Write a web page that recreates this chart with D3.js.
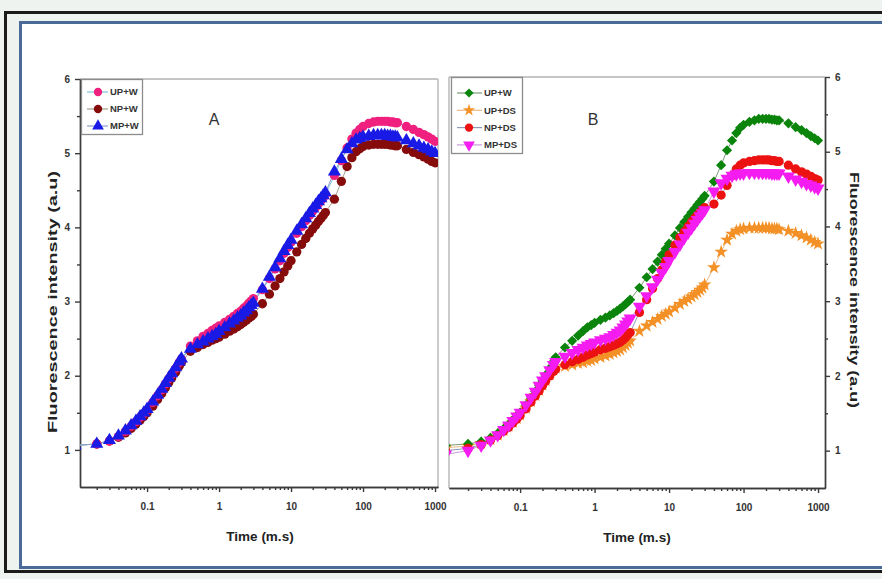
<!DOCTYPE html>
<html>
<head>
<meta charset="utf-8">
<script src="https://cdn.jsdelivr.net/npm/d3@7"></script>
<style>
body { margin: 0; background: #eef3f0; }
svg { display: block; font-family: "Liberation Sans", Arial, sans-serif; }
</style>
</head>
<body>
<svg width="882" height="579"></svg>
<script>
// sample times (ms), same for every curve
const times = [
  0.01, 0.02, 0.03, 0.04, 0.05, 0.06, 0.07, 0.08, 0.09, 0.1,
  0.12, 0.14, 0.16, 0.18, 0.2, 0.22, 0.25, 0.28, 0.3,
  0.4, 0.5, 0.6, 0.7, 0.8, 0.9, 1,
  1.2, 1.4, 1.6, 1.8, 2, 2.2, 2.4, 2.6, 2.8, 3,
  4, 5, 6, 7, 8, 9, 10,
  12, 14, 16, 18, 20, 22, 24, 26, 28, 30,
  40, 50, 60, 70, 80, 90, 100,
  120, 140, 160, 180, 200, 220, 240, 260, 280, 300,
  400, 500, 600, 700, 800, 900, 1000
]

// panel A
const upW_A = [
  1.06, 1.08, 1.12, 1.18, 1.25, 1.32, 1.38, 1.44, 1.49, 1.54, 1.64, 1.73, 1.81, 1.89, 1.96, 2.02, 2.10, 2.18, 2.22,
  2.40, 2.47, 2.53, 2.57, 2.61, 2.64, 2.67, 2.72, 2.76, 2.80, 2.84, 2.87, 2.91, 2.94, 2.98, 3.01, 3.04,
  3.16, 3.31, 3.44, 3.55, 3.65, 3.73, 3.80, 3.92, 4.01, 4.09, 4.16, 4.22, 4.27, 4.32, 4.36, 4.40, 4.44,
  4.70, 4.90, 5.07, 5.19, 5.27, 5.32, 5.36, 5.40, 5.42, 5.43, 5.43, 5.43, 5.43, 5.42, 5.42, 5.41, 5.41,
  5.36, 5.32, 5.28, 5.25, 5.22, 5.19, 5.16
]
const npW_A = [
  1.06, 1.08, 1.12, 1.17, 1.23, 1.29, 1.35, 1.40, 1.45, 1.50, 1.59, 1.68, 1.76, 1.84, 1.91, 1.97, 2.05, 2.13, 2.18,
  2.33, 2.38, 2.42, 2.45, 2.48, 2.50, 2.52, 2.56, 2.60, 2.63, 2.66, 2.69, 2.72, 2.75, 2.78, 2.80, 2.83,
  2.97, 3.10, 3.21, 3.31, 3.40, 3.48, 3.55, 3.67, 3.77, 3.85, 3.92, 3.98, 4.03, 4.08, 4.12, 4.16, 4.20,
  4.38, 4.62, 4.82, 4.94, 5.02, 5.06, 5.09, 5.11, 5.12, 5.12, 5.12, 5.12, 5.12, 5.11, 5.11, 5.10, 5.10,
  5.05, 5.01, 4.98, 4.95, 4.92, 4.89, 4.87
]
const mpW_A = [
  1.06, 1.08, 1.13, 1.19, 1.26, 1.33, 1.39, 1.45, 1.50, 1.55, 1.65, 1.74, 1.82, 1.90, 1.97, 2.03, 2.11, 2.19, 2.23,
  2.36, 2.42, 2.46, 2.50, 2.53, 2.56, 2.60, 2.65, 2.70, 2.74, 2.78, 2.81, 2.85, 2.88, 2.92, 2.95, 2.98,
  3.17, 3.33, 3.46, 3.58, 3.68, 3.76, 3.83, 3.95, 4.04, 4.12, 4.19, 4.25, 4.30, 4.35, 4.39, 4.43, 4.47,
  4.75, 4.92, 5.05, 5.13, 5.18, 5.20, 5.22, 5.23, 5.24, 5.24, 5.24, 5.24, 5.23, 5.23, 5.22, 5.22, 5.21,
  5.17, 5.13, 5.10, 5.07, 5.05, 5.02, 5.00
]

// panel B
const upW_B = [
  1.07, 1.09, 1.12, 1.17, 1.23, 1.29, 1.35, 1.41, 1.46, 1.51, 1.61, 1.70, 1.79, 1.87, 1.94, 2.01, 2.10, 2.19, 2.25,
  2.38, 2.47, 2.54, 2.60, 2.65, 2.68, 2.71, 2.75, 2.78, 2.81, 2.84, 2.87, 2.90, 2.93, 2.96, 2.99, 3.02,
  3.18, 3.32, 3.43, 3.53, 3.62, 3.70, 3.77, 3.88, 3.98, 4.06, 4.13, 4.19, 4.24, 4.29, 4.33, 4.37, 4.41,
  4.60, 4.82, 5.02, 5.15, 5.25, 5.32, 5.36, 5.40, 5.42, 5.44, 5.44, 5.44, 5.44, 5.43, 5.43, 5.42, 5.42,
  5.38, 5.33, 5.29, 5.25, 5.21, 5.18, 5.15
]
const upDS_B = [
  1.04, 1.06, 1.10, 1.15, 1.21, 1.27, 1.33, 1.38, 1.43, 1.48, 1.57, 1.66, 1.74, 1.81, 1.88, 1.94, 2.02, 2.08, 2.11,
  2.13, 2.15, 2.17, 2.18, 2.20, 2.21, 2.23, 2.25, 2.27, 2.29, 2.31, 2.33, 2.35, 2.38, 2.41, 2.44, 2.47,
  2.60, 2.67, 2.72, 2.76, 2.80, 2.83, 2.86, 2.91, 2.96, 3.00, 3.03, 3.06, 3.09, 3.12, 3.15, 3.18, 3.22,
  3.45, 3.66, 3.82, 3.90, 3.94, 3.96, 3.97, 3.98, 3.98, 3.98, 3.98, 3.98, 3.98, 3.97, 3.97, 3.97, 3.96,
  3.94, 3.91, 3.88, 3.85, 3.82, 3.79, 3.77
]
const npDS_B = [
  1.00, 1.03, 1.08, 1.14, 1.20, 1.26, 1.31, 1.37, 1.42, 1.47, 1.56, 1.65, 1.73, 1.80, 1.87, 1.93, 2.00, 2.06, 2.09,
  2.15, 2.19, 2.22, 2.25, 2.28, 2.30, 2.32, 2.35, 2.37, 2.39, 2.41, 2.43, 2.45, 2.48, 2.51, 2.55, 2.58,
  2.85, 3.02, 3.17, 3.30, 3.42, 3.53, 3.62, 3.75, 3.85, 3.93, 4.00, 4.06, 4.11, 4.15, 4.19, 4.22, 4.25,
  4.30, 4.42, 4.55, 4.68, 4.77, 4.82, 4.85, 4.87, 4.88, 4.89, 4.89, 4.89, 4.89, 4.88, 4.88, 4.87, 4.87,
  4.82, 4.77, 4.73, 4.70, 4.67, 4.64, 4.62
]
const mpDS_B = [
  0.95, 1.00, 1.07, 1.14, 1.21, 1.28, 1.34, 1.40, 1.46, 1.51, 1.61, 1.71, 1.79, 1.87, 1.94, 2.00, 2.08, 2.15, 2.19,
  2.26, 2.31, 2.35, 2.38, 2.41, 2.43, 2.45, 2.48, 2.50, 2.52, 2.55, 2.58, 2.61, 2.65, 2.69, 2.73, 2.77,
  2.93, 3.07, 3.19, 3.29, 3.38, 3.46, 3.54, 3.66, 3.76, 3.85, 3.92, 3.98, 4.04, 4.09, 4.14, 4.18, 4.22,
  4.47, 4.58, 4.64, 4.68, 4.70, 4.71, 4.71, 4.72, 4.72, 4.72, 4.72, 4.72, 4.72, 4.71, 4.71, 4.71, 4.71,
  4.67, 4.63, 4.60, 4.57, 4.55, 4.53, 4.51
]

const xTickValues = [0.1, 1, 10, 100, 1000]
const xTickLabels = ['0.1', '1', '10', '100', '1000']
const yTickValues = [1, 2, 3, 4, 5, 6]
const yMinorValues = [1.5, 2.5, 3.5, 4.5, 5.5]

const svg = d3.select('svg')

// outer frames of the figure
svg.append('rect').attr('x', 5.5).attr('y', 12.5).attr('width', 900).attr('height', 559)
  .attr('fill', '#eef3f0').attr('stroke', '#1b1b1b').attr('stroke-width', 3)
svg.append('rect').attr('x', 20.5).attr('y', 22.5).attr('width', 880).attr('height', 545)
  .attr('fill', '#fff').attr('stroke', '#4a6b98').attr('stroke-width', 3)

const downTri = 180

const panelA = {
  name: 'A', left: 80, right: 438, top: 79, bottom: 487,
  xDomain: [0.0117, 1100], side: 'left',
  label: { x: 214, y: 119 },
  yTitle: { x: 52, y: 302, len: 262, rot: -90 },
  xTitle: { x: 260, y: 541 },
  legend: { x: 81, y: 79, w: 61, h: 55, first: 13, step: 17, l0: 87, l1: 108, m: 98, t: 110 },
  series: [
    { name: 'UP+W', values: upW_A, color: '#f0207f', line: '#7ec4de', symbol: d3.symbolCircle, size: 68 },
    { name: 'NP+W', values: npW_A, color: '#860b0b', line: '#a89c8c', symbol: d3.symbolCircle, size: 68 },
    { name: 'MP+W', values: mpW_A, color: '#1a1ae6', line: '#8e9cc8', symbol: d3.symbolTriangle, size: 74 }
  ],
  order: [1, 0, 2]
}

const panelB = {
  name: 'B', left: 449, right: 825, top: 77, bottom: 488,
  xDomain: [0.0111, 1240], side: 'right',
  label: { x: 593, y: 119 },
  yTitle: { x: 855, y: 290, len: 236, rot: 90 },
  xTitle: { x: 637, y: 542 },
  legend: { x: 451, y: 77, w: 71, h: 76, first: 16, step: 17.3, l0: 457, l1: 482, m: 469, t: 484 },
  series: [
    { name: 'UP+W', values: upW_B, color: '#0b840b', line: '#7a9a7a', symbol: d3.symbolSquare, size: 52, rot: 45 },
    { name: 'UP+DS', values: upDS_B, color: '#f39026', line: '#e8b888', symbol: d3.symbolStar, size: 58 },
    { name: 'NP+DS', values: npDS_B, color: '#ec1212', line: '#8e9ab8', symbol: d3.symbolCircle, size: 68 },
    { name: 'MP+DS', values: mpDS_B, color: '#f41cf0', line: '#c898d8', symbol: d3.symbolTriangle, size: 74, rot: downTri }
  ],
  order: [1, 0, 2, 3]
}

function styleAxis(sel) {
  sel.selectAll('path, line').attr('stroke', '#3b3b3b').attr('stroke-width', 1.4)
  sel.selectAll('text').attr('fill', '#333').attr('font-size', 10).attr('font-weight', 'bold')
}

function drawPanel(p) {
  const x = d3.scaleLog().domain(p.xDomain).range([p.left, p.right])
  const y = d3.scaleLinear().domain([0.5, 6]).range([p.bottom, p.top])
  const g = svg.append('g')

  // light grey frame on the open sides
  g.append('line').attr('x1', p.left).attr('x2', p.right).attr('y1', p.top).attr('y2', p.top)
    .attr('stroke', '#c6c6c6').attr('stroke-width', 1.8)
  const fx = p.side == 'left' ? p.right : p.left
  g.append('line').attr('x1', fx).attr('x2', fx).attr('y1', p.top).attr('y2', p.bottom)
    .attr('stroke', '#c6c6c6').attr('stroke-width', 1.8)

  // minor log ticks 2..9 per decade
  let xMinor = []
  for (let k = -2; k <= 3; k++) {
    for (let m = 2; m <= 9; m++) {
      const v = m * Math.pow(10, k)
      if (v > p.xDomain[0] && v < p.xDomain[1]) xMinor.push(v)
    }
  }

  g.append('g').attr('transform', `translate(0,${p.bottom})`)
    .call(d3.axisBottom(x).tickValues(xMinor).tickSize(3).tickSizeOuter(0).tickFormat(''))
    .call(styleAxis)
  g.append('g').attr('transform', `translate(0,${p.bottom})`)
    .call(d3.axisBottom(x).tickValues(xTickValues).tickSize(5).tickSizeOuter(0).tickPadding(11)
      .tickFormat((d, i) => xTickLabels[i]))
    .call(styleAxis)

  const yAxis = p.side == 'left' ? d3.axisLeft : d3.axisRight
  const ax = p.side == 'left' ? p.left : p.right
  g.append('g').attr('transform', `translate(${ax},0)`)
    .call(yAxis(y).tickValues(yMinorValues).tickSize(3).tickSizeOuter(0).tickFormat(''))
    .call(styleAxis)
  g.append('g').attr('transform', `translate(${ax},0)`)
    .call(yAxis(y).tickValues(yTickValues).tickSize(5).tickSizeOuter(0).tickPadding(5).tickFormat(d3.format('d')))
    .call(styleAxis)

  // curves
  svg.append('clipPath').attr('id', 'clip' + p.name).append('rect')
    .attr('x', p.left).attr('y', p.top).attr('width', p.right - p.left).attr('height', p.bottom - p.top)
  const plot = g.append('g').attr('clip-path', `url(#clip${p.name})`)

  const line = d3.line().x((d, i) => x(times[i])).y(d => y(d))
  p.order.forEach(j => {
    const s = p.series[j]
    plot.append('path').datum(s.values).attr('d', line)
      .attr('fill', 'none').attr('stroke', s.line).attr('stroke-width', 1)
  })
  p.order.forEach(j => {
    const s = p.series[j]
    plot.selectAll(null).data(s.values).enter().append('path')
      .attr('transform', (d, i) => `translate(${x(times[i])},${y(d)}) rotate(${s.rot || 0})`)
      .attr('d', d3.symbol().type(s.symbol).size(s.size))
      .attr('fill', s.color)
  })

  // legend
  const L = p.legend
  g.append('rect').attr('x', L.x + 0.5).attr('y', L.y + 0.5).attr('width', L.w).attr('height', L.h)
    .attr('fill', '#fff').attr('stroke', '#8c8c8c').attr('stroke-width', 1.3)
  p.series.forEach((s, i) => {
    const cy = L.y + L.first + i * L.step
    g.append('line').attr('x1', L.l0).attr('x2', L.l1).attr('y1', cy).attr('y2', cy)
      .attr('stroke', s.line).attr('stroke-width', 1.2)
    g.append('path').attr('transform', `translate(${L.m},${cy}) rotate(${s.rot || 0})`)
      .attr('d', d3.symbol().type(s.symbol).size(s.size * 0.8)).attr('fill', s.color)
    g.append('text').attr('x', L.t).attr('y', cy).attr('dy', '0.35em')
      .attr('font-size', 9.5).attr('font-weight', 'bold').attr('fill', '#333').text(s.name)
  })

  // panel letter and axis titles
  g.append('text').attr('x', p.label.x).attr('y', p.label.y).attr('dy', '0.35em')
    .attr('text-anchor', 'middle').attr('font-size', 16).attr('fill', '#333').text(p.name)
  g.append('text').attr('x', p.xTitle.x).attr('y', p.xTitle.y)
    .attr('text-anchor', 'middle').attr('font-size', 13.5).attr('font-weight', 'bold').attr('fill', '#222')
    .text('Time (m.s)')
  g.append('text')
    .attr('transform', `translate(${p.yTitle.x},${p.yTitle.y}) rotate(${p.yTitle.rot})`)
    .attr('text-anchor', 'middle').attr('dy', '0.35em')
    .attr('font-size', 13.5).attr('font-weight', 'bold').attr('fill', '#222')
    .attr('textLength', p.yTitle.len).attr('lengthAdjust', 'spacingAndGlyphs')
    .text('Fluorescence intensity (a.u)')
}

drawPanel(panelA)
drawPanel(panelB)
</script>
</body>
</html>
